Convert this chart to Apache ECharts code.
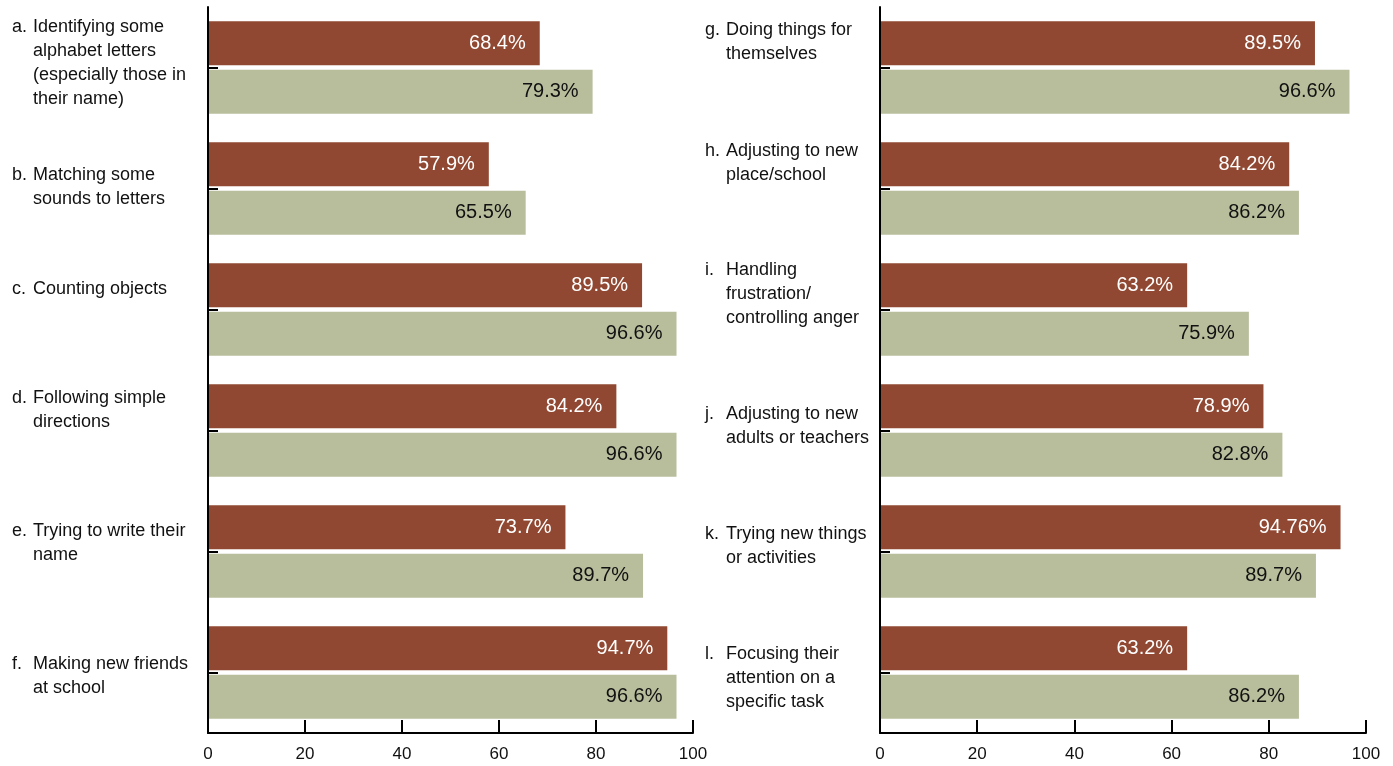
<!DOCTYPE html>
<html>
<head>
<meta charset="utf-8">
<script src="https://cdn.jsdelivr.net/npm/echarts@6/dist/echarts.min.js"></script>
<style>
html,body{margin:0;padding:0;background:#fff;}
#chart{width:1393px;height:766px;}
</style>
</head>
<body>
<div id="chart"></div>
<script>
// ---- data ----
const leftLetters = ['a.', 'b.', 'c.', 'd.', 'e.', 'f.'];
const leftCategories = [
  'Identifying some\nalphabet letters\n(especially those in\ntheir name)',
  'Matching some\nsounds to letters',
  'Counting objects',
  'Following simple\ndirections',
  'Trying to write their\nname',
  'Making new friends\nat school'
];
const leftSeriesA = [68.4, 57.9, 89.5, 84.2, 73.7, 94.7];
const leftSeriesB = [79.3, 65.5, 96.6, 96.6, 89.7, 96.6];

const rightLetters = ['g.', 'h.', 'i.', 'j.', 'k.', 'l.'];
const rightCategories = [
  'Doing things for\nthemselves',
  'Adjusting to new\nplace/school',
  'Handling\nfrustration/\ncontrolling anger',
  'Adjusting to new\nadults or teachers',
  'Trying new things\nor activities',
  'Focusing their\nattention on a\nspecific task'
];
const rightSeriesA = [89.5, 84.2, 63.2, 78.9, 94.76, 63.2];
const rightSeriesB = [96.6, 86.2, 75.9, 82.8, 89.7, 86.2];

const xTicks = [0, 20, 40, 60, 80, 100];

// ---- styling ----
const FONT = "'Liberation Sans', Arial, sans-serif";
const RED = '#904832';
const GREEN = '#b8be9c';
// vertical nudges of category label blocks (px, positive = up)
const leftNudge = [4, 1, 20, 20, 8, -4];
const rightNudge = [25, 25, 15, 4, 5, -6];

function catData(cats, nudge) {
  return cats.map((c, i) => {
    const d = nudge[i];
    return {
      value: c,
      textStyle: {
        align: 'left', verticalAlign: 'middle',
        padding: d >= 0 ? [0, 0, 2 * d, 0] : [-2 * d, 0, 0, 0]
      }
    };
  });
}
function makeFormatter(letters) {
  return function (value, index) {
    const lines = String(value).split('\n');
    return lines.map((ln, k) => (k === 0 ? '{p|' + letters[index] + '}' : '{p| }') + '{t|' + ln + '}').join('\n');
  };
}
const richStyle = {
  p: { width: 21, fontSize: 18, fontFamily: FONT, color: '#111', lineHeight: 24, align: 'left' },
  t: { fontSize: 18, fontFamily: FONT, color: '#111', lineHeight: 24, align: 'left' }
};

function xAxisCfg(gi) {
  return {
    gridIndex: gi, type: 'value', min: 0, max: 100, interval: 20,
    axisLine: { show: true, lineStyle: { color: '#000', width: 2 } },
    axisTick: { show: true, inside: true, length: 13, lineStyle: { color: '#000', width: 2 } },
    splitLine: { show: false },
    axisLabel: {
      margin: 13, fontSize: 17, fontFamily: FONT, color: '#111',
      formatter: v => (xTicks.indexOf(v) >= 0 ? String(v) : '')
    }
  };
}
function yAxisCfg(gi, cats, letters, nudge, margin) {
  return {
    gridIndex: gi, type: 'category', inverse: true, z: 5,
    data: catData(cats, nudge),
    axisLine: { show: true, lineStyle: { color: '#000', width: 2 } },
    axisTick: { show: true, inside: true, alignWithLabel: true, length: 10, lineStyle: { color: '#000', width: 2 } },
    axisLabel: {
      margin: margin, align: 'left', verticalAlign: 'middle',
      formatter: makeFormatter(letters), rich: richStyle,
      interval: 0
    }
  };
}
function barSeries(xi, yi, data, color, labelColor) {
  return {
    type: 'bar', xAxisIndex: xi, yAxisIndex: yi, data: data,
    barWidth: 44, barGap: '10%',
    itemStyle: { color: color },
    label: {
      show: true, position: 'insideRight', distance: 14,
      fontSize: 20, fontFamily: FONT, color: labelColor,
      formatter: p => p.value + '%'
    },
    silent: true, animation: false
  };
}

const chart = echarts.init(document.getElementById('chart'), null, { renderer: 'canvas' });
chart.setOption({
  backgroundColor: '#fff',
  animation: false,
  grid: [
    { left: 208, width: 485, top: 7, bottom: 33, containLabel: false, outerBoundsMode: 'none' },
    { left: 880, width: 486, top: 7, bottom: 33, containLabel: false, outerBoundsMode: 'none' }
  ],
  xAxis: [xAxisCfg(0), xAxisCfg(1)],
  yAxis: [
    yAxisCfg(0, leftCategories, leftLetters, leftNudge, 196),
    yAxisCfg(1, rightCategories, rightLetters, rightNudge, 175)
  ],
  series: [
    barSeries(0, 0, leftSeriesA, RED, '#fff'),
    barSeries(0, 0, leftSeriesB, GREEN, '#111'),
    barSeries(1, 1, rightSeriesA, RED, '#fff'),
    barSeries(1, 1, rightSeriesB, GREEN, '#111')
  ]
});
</script>
</body>
</html>
